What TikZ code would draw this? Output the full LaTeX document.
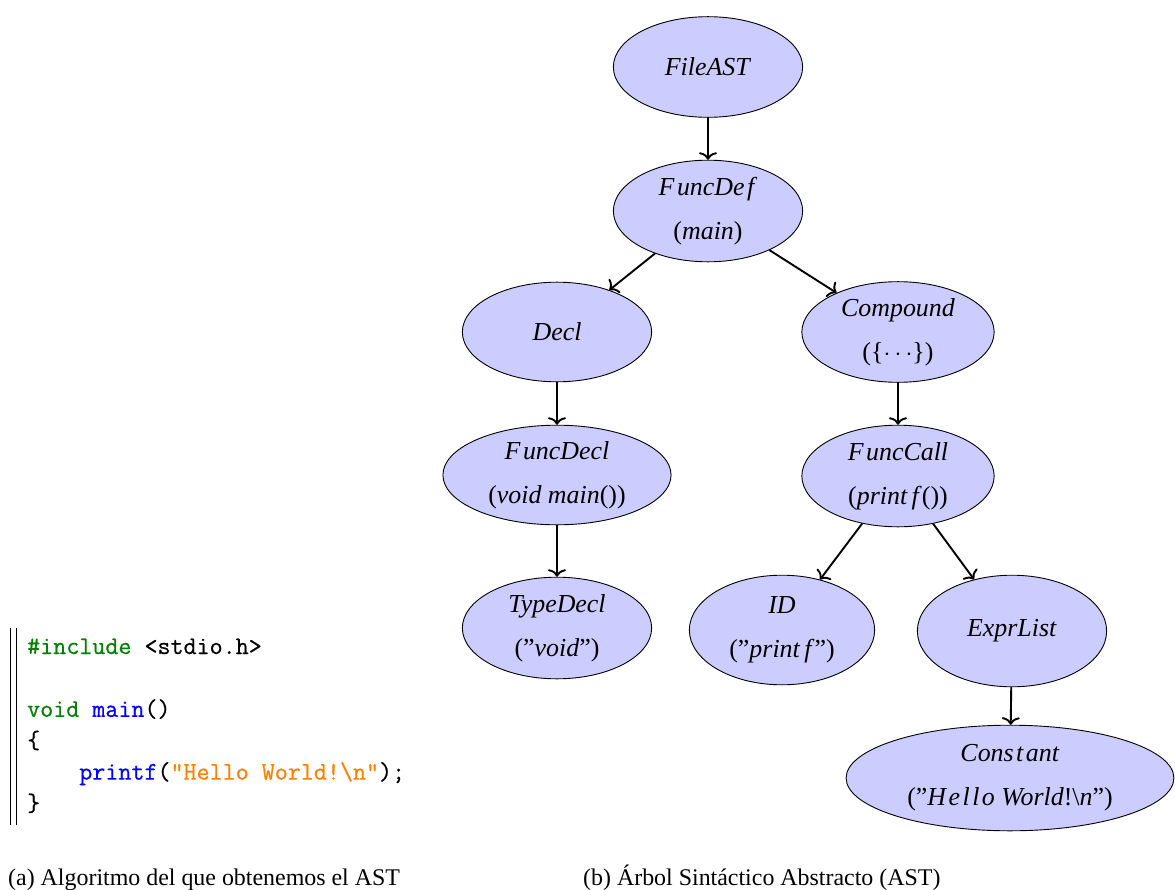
\documentclass[tikz,border=0pt]{standalone}
\usepackage{fontspec}
\setmainfont{Liberation Serif}
\newfontfamily\codefont{Latin Modern Mono}[FakeBold=0.6]
\usetikzlibrary{shapes.geometric,arrows.meta}
\definecolor{kwgreen}{RGB}{0,128,0}
\definecolor{fnblue}{RGB}{0,0,255}
\definecolor{strorange}{RGB}{255,128,0}
\newcommand{\tk}{\kern2.5pt}
\newcommand{\wk}{\kern4.5pt}
\begin{document}
\begin{tikzpicture}[x=1bp,y=-1bp,
  astnode/.style={ellipse,draw=black,line width=0.9bp,fill=blue!20,inner sep=0pt,
    align=center,font=\fontsize{26}{44}\selectfont},
  edge/.style={line width=1.9bp,-{To[length=7.5bp,width=18bp]}},
  codeline/.style={anchor=base west,inner sep=0pt,font=\fontsize{25.4}{30}\codefont},
  captext/.style={anchor=base west,inner sep=0pt,font=\fontsize{24}{28}\selectfont}]
\useasboundingbox (0,0) rectangle (1175,890);

% --- abstract syntax tree ---
\node[astnode,minimum width=190,minimum height=101] (file) at (708,67) {\textit{FileAST}};
\node[astnode,minimum width=190,minimum height=102] (fdef) at (708,211) {\textit{F\tk uncDe\tk f}\\(\textit{main})};
\node[astnode,minimum width=190,minimum height=100] (decl) at (557,332) {\textit{Decl}};
\node[astnode,minimum width=193,minimum height=101] (comp) at (898,332) {\textit{Compound}\\(\{$\cdots$\})};
\node[astnode,minimum width=229,minimum height=100] (fdecl) at (557,475) {\textit{F\tk uncDecl}\\(\textit{void main}())};
\node[astnode,minimum width=193,minimum height=102] (fcall) at (898,476) {\textit{F\tk uncCall}\\(\textit{print\wk f}())};
\node[astnode,minimum width=190,minimum height=102] (tdecl) at (557,628) {\textit{TypeDecl}\\(”\textit{void}”)};
\node[astnode,minimum width=186,minimum height=110] (id) at (782,630) {\textit{ID}\\(”\textit{print\wk f}”)};
\node[astnode,minimum width=190,minimum height=112] (elist) at (1012,631) {\textit{ExprList}};
\node[astnode,minimum width=329,minimum height=106] (const) at (1010,778) {\textit{Cons\tk t\tk ant}\\(”\textit{H\tk e\tk l\tk l\tk o World}!\textbackslash\textit{n}”)};

\draw[edge] (file) -- (fdef);
\draw[edge] (fdef) -- (decl);
\draw[edge] (fdef) -- (comp);
\draw[edge] (decl) -- (fdecl);
\draw[edge] (comp) -- (fcall);
\draw[edge] (fdecl) -- (tdecl);
\draw[edge] (fcall) -- (id);
\draw[edge] (fcall) -- (elist);
\draw[edge] (elist) -- (const);

% --- source listing ---
\coordinate (barTopA) at (10.5,628);
\coordinate (barBotA) at (10.5,825);
\coordinate (barTopB) at (16,628);
\coordinate (barBotB) at (16,825);
\draw[line width=0.8bp] (barTopA) -- (barBotA);
\draw[line width=0.8bp] (barTopB) -- (barBotB);

\node[codeline] (l1) at (27,654) {\textcolor{kwgreen}{\#include} <stdio.h>};
\node[codeline] (l3) at (27,716.8) {\textcolor{kwgreen}{void} \textcolor{fnblue}{main}()};
\node[codeline] (l4) at (27,748.2) {\{};
\node[codeline] (l5) at (27,779.6) {\hphantom{xxxx}\textcolor{fnblue}{printf}(\textcolor{strorange}{"Hello World!\textbackslash n"});};
\node[codeline] (l6) at (27,811) {\}};

% --- captions ---
\node[captext] (capa) at (8,885) {(a) Algoritmo del que obtenemos el AST};
\node[captext] (capb) at (583,885) {(b) Árbol Sintáctico Abstracto (AST)};
\end{tikzpicture}
\end{document}
